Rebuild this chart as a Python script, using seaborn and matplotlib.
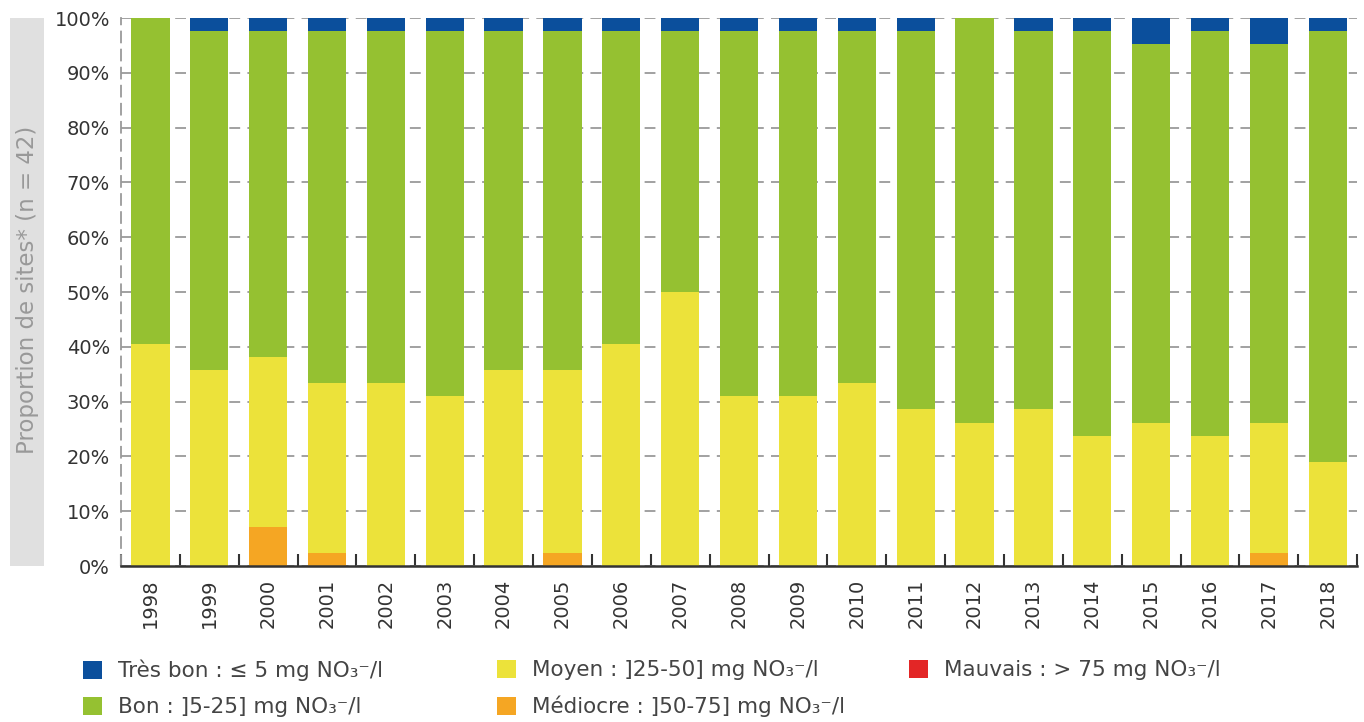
import numpy as np
import pandas as pd
import matplotlib
matplotlib.use("Agg")
import matplotlib.pyplot as plt
import seaborn as sns
from matplotlib.patches import Rectangle
from matplotlib.ticker import FixedLocator

# nombre de sites par classe (n = 42)
years = [str(y) for y in range(1998, 2019)]
n_sites = 42
tres_bon = [0, 1, 1, 1, 1, 1, 1, 1, 1, 1, 1, 1, 1, 1, 0, 1, 1, 2, 1, 2, 1]
moyen = [17, 15, 13, 13, 14, 13, 15, 14, 17, 21, 13, 13, 14, 12, 11, 12, 10, 11, 10, 10, 8]
mediocre = [0, 0, 3, 1, 0, 0, 0, 1, 0, 0, 0, 0, 0, 0, 0, 0, 0, 0, 0, 1, 0]
mauvais = [0] * 21

labels = [
    "Très bon : ≤ 5 mg NO₃⁻/l",
    "Bon : ]5-25] mg NO₃⁻/l",
    "Moyen : ]25-50] mg NO₃⁻/l",
    "Médiocre : ]50-75] mg NO₃⁻/l",
    "Mauvais : > 75 mg NO₃⁻/l",
]
colors = ["#0b4f9c", "#95c131", "#ece23a", "#f5a623", "#e32626"]

tb = np.array(tres_bon)
mo = np.array(moyen)
me = np.array(mediocre)
ma = np.array(mauvais)
bon = n_sites - tb - mo - me - ma

df = pd.DataFrame({
    "annee": years,
    "Mauvais": ma / n_sites * 100,
    "Médiocre": me / n_sites * 100,
    "Moyen": mo / n_sites * 100,
    "Bon": bon / n_sites * 100,
    "Très bon": tb / n_sites * 100,
})

sns.set_style("white")
plt.rcParams["font.family"] = ["DejaVu Sans"]

fig = plt.figure(figsize=(13.64, 7.22), dpi=100)
ax = fig.add_axes([0.0887, 0.216, 0.9063, 0.759])

# barres empilées : on trace les cumuls du haut vers le bas
order_stack = ["Mauvais", "Médiocre", "Moyen", "Bon", "Très bon"]
col_of = {"Très bon": colors[0], "Bon": colors[1], "Moyen": colors[2],
          "Médiocre": colors[3], "Mauvais": colors[4]}
cum = df[order_stack].cumsum(axis=1)
for cls in reversed(order_stack):
    sns.barplot(x=df["annee"], y=cum[cls], color=col_of[cls], width=0.65,
                linewidth=0, saturation=1, ax=ax, zorder=2)

ax.set_xlim(-0.5, 20.5)
ax.set_ylim(0, 100)
ax.set_xlabel("")
ax.set_ylabel("")
ax.set_yticks(np.arange(0, 101, 10))
ax.set_yticklabels([f"{v}%" for v in range(0, 101, 10)], fontsize=14, color="#333333")
ax.tick_params(axis="y", length=0, pad=8)
ax.set_xticks(range(len(years)))
ax.set_xticklabels(years, rotation=90, fontsize=14, color="#333333")
ax.tick_params(axis="x", which="major", bottom=False, length=0, pad=9)
ax.xaxis.set_minor_locator(FixedLocator(np.arange(-0.5, 21, 1)))
ax.tick_params(axis="x", which="minor", bottom=True, direction="in", length=9,
               width=1.5, color="#333333")

ax.yaxis.grid(True, linestyle=(0, (6, 4)), color="#9a9a9a", linewidth=1.3, zorder=0)
ax.set_axisbelow(True)
for s in ["top", "right"]:
    ax.spines[s].set_visible(False)
ax.spines["left"].set_linestyle((0, (6, 4)))
ax.spines["left"].set_color("#9a9a9a")
ax.spines["left"].set_linewidth(1.3)
ax.spines["bottom"].set_color("#333333")
ax.spines["bottom"].set_linewidth(1.8)

# bandeau du titre de l'axe y
fig.patches.append(Rectangle((0.0073, 0.216), 0.025, 0.759, transform=fig.transFigure,
                             facecolor="#e0e0e0", edgecolor="none", zorder=0))
fig.text(0.0198, 0.598, "Proportion de sites* (n = 42)", rotation=90,
         ha="center", va="center", fontsize=16.5, color="#999999")

# légende en trois colonnes placées séparément
handles = [Rectangle((0, 0), 1, 1, facecolor=c, edgecolor="none") for c in colors]
columns = [([0, 1], 0.0608), ([2, 3], 0.3644), ([4], 0.6664)]
for idx, xpos in columns:
    leg = fig.legend([handles[i] for i in idx], [labels[i] for i in idx],
                     loc="upper left", bbox_to_anchor=(xpos, 0.086), ncol=1,
                     frameon=False, fontsize=15.5, handlelength=0.9, handleheight=0.9,
                     handletextpad=0.72, labelspacing=0.72, borderpad=0,
                     borderaxespad=0, labelcolor="#444444")

fig.savefig("out.png", dpi=100)
